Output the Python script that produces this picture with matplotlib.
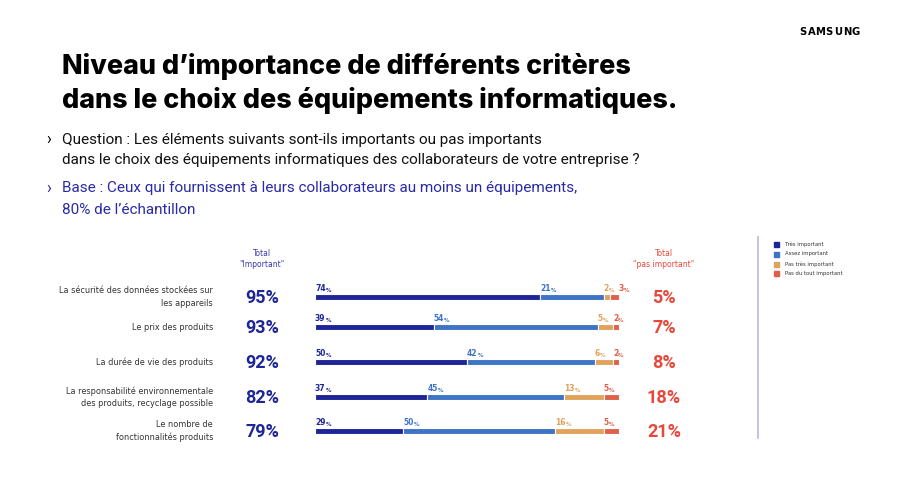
import matplotlib
matplotlib.use('Agg')
import matplotlib.pyplot as plt
import numpy as np

# Data
criteria = [
    "La sécurité des données stockées sur\nles appareils",
    "Le prix des produits",
    "La durée de vie des produits",
    "La responsabilité environnementale\ndes produits, recyclage possible",
    "Le nombre de\nfonctionnalités produits",
]
tres_important = [74, 39, 50, 37, 29]
assez_important = [21, 54, 42, 45, 50]
pas_tres_important = [2, 5, 6, 13, 16]
pas_du_tout_important = [3, 2, 2, 5, 5]
total_important = [95, 93, 92, 82, 79]
total_pas_important = [5, 7, 8, 18, 21]
series_names = ["Très important", "Assez important", "Pas très important", "Pas du tout important"]

# Colours and layout
colors = ["#1e2697", "#3d74c5", "#e0a25c", "#e0604a"]
navy = "#1e2697"
red = "#e8473a"
W, H = 900, 484
row_y = [297, 327, 362, 397, 431]  # pixel rows of the bars


def fx(x):
    return x / W


def fy(y):
    return 1 - y / H


fig = plt.figure(figsize=(9, 4.84), dpi=100)
fig.patch.set_facecolor('white')

# Title and subtitles
fig.text(fx(62), fy(67), "Niveau d’importance de différents critères", fontsize=19.4,
         fontweight='heavy', family='Inter', color='black', va='center')
fig.text(fx(62), fy(101), "dans le choix des équipements informatiques.", fontsize=19.4,
         fontweight='heavy', family='Inter', color='black', va='center')

# Samsung wordmark, letters spread out
for k, ch in enumerate("SAMSUNG"):
    fig.text(fx(802.5 + k * 8.9), fy(32), ch, fontsize=7.2, fontweight='bold',
             family='DejaVu Sans', color='black', ha='center', va='center')

fig.text(fx(46), fy(140), "›", fontsize=11.5, color='black', va='center', family='Roboto')
fig.text(fx(62), fy(140), "Question : Les éléments suivants sont-ils importants ou pas importants",
         fontsize=10.95, color='#111111', va='center', family='Roboto')
fig.text(fx(62), fy(160), "dans le choix des équipements informatiques des collaborateurs de votre entreprise ?",
         fontsize=10.95, color='#111111', va='center', family='Roboto')
fig.text(fx(46), fy(188), "›", fontsize=11.5, color='#2a2aa8', va='center', family='Roboto')
fig.text(fx(62), fy(188), "Base : Ceux qui fournissent à leurs collaborateurs au moins un équipements,",
         fontsize=10.95, color='#2a2aa8', va='center', family='Roboto')
fig.text(fx(62), fy(210), "80% de l’échantillon",
         fontsize=10.95, color='#2a2aa8', va='center', family='Roboto')

# Column headers
fig.text(fx(262), fy(259), "Total\n\"Important\"", fontsize=5.5, color='#3a3ab0',
         ha='center', va='center', linespacing=1.3)
fig.text(fx(664), fy(259), "Total\n\"pas important\"", fontsize=5.5, color=red,
         ha='center', va='center', linespacing=1.3)

# Row labels and totals
for i, label in enumerate(criteria):
    fig.text(fx(213), fy(row_y[i]), label, fontsize=5.9, color='#333333',
             ha='right', va='center', linespacing=1.5)
    fig.text(fx(262), fy(row_y[i] + 1), f"{total_important[i]}%", fontsize=13,
             fontweight='bold', family='Roboto', color=navy, ha='center', va='center')
    fig.text(fx(664), fy(row_y[i] + 1), f"{total_pas_important[i]}%", fontsize=13,
             fontweight='bold', family='Roboto', color=red, ha='center', va='center')

# Stacked bars
ax = fig.add_axes([fx(315), 0, fx(619) - fx(315), 1])
ax.set_xlim(0, 100)
ax.set_ylim(H, 0)
ax.axis('off')

series = [tres_important, assez_important, pas_tres_important, pas_du_tout_important]
left = np.zeros(len(criteria))
prev_label = np.full(len(criteria), -100.0)
for s, vals in enumerate(series):
    vals = np.array(vals, dtype=float)
    ax.barh(row_y, vals, left=left, height=6, color=colors[s],
            edgecolor='white', linewidth=0.8)
    for i, v in enumerate(vals):
        lx = max(left[i], prev_label[i] + 5)  # push small labels apart
        prev_label[i] = lx
        t = ax.text(lx, row_y[i] - 6, f"{int(v)}", fontsize=5.5, fontweight='bold',
                    color=colors[s], ha='left', va='baseline')
        ax.annotate("%", xy=(1, 0), xycoords=t, fontsize=4, fontweight='bold',
                    color=colors[s], ha='left', va='bottom')
    left += vals

# Legend with vertical separator
fig.add_artist(plt.Line2D([fx(758), fx(758)], [fy(237), fy(438)], color='#b8b8e0', lw=1.2))
legend_y = [244, 254, 264, 273]
for s, name in enumerate(series_names):
    fig.patches.append(plt.Rectangle((fx(774), fy(legend_y[s] + 2.5)), fx(5), 5 / H,
                                     transform=fig.transFigure, color=colors[s]))
    fig.text(fx(785), fy(legend_y[s]), name, fontsize=3.8, color='#333333', va='center')

fig.savefig('out.png', dpi=100)
